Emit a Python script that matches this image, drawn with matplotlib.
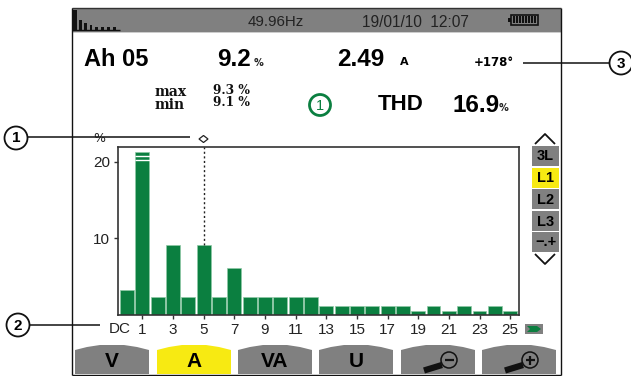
import matplotlib
matplotlib.use("Agg")
import matplotlib.pyplot as plt
from matplotlib.patches import Rectangle, Polygon, Circle

W, H = 631, 376
positions = list(range(26))
values = [3.2, 21.3, 2.3, 9.2, 2.3, 9.2, 2.3, 6.2, 2.3, 2.3, 2.3, 2.3, 2.3,
          1.2, 1.2, 1.2, 1.2, 1.2, 1.2, 0.5, 1.2, 0.5, 1.2, 0.5, 1.2, 0.5]
tick_pos = [0, 1, 3, 5, 7, 9, 11, 13, 15, 17, 19, 21, 23, 25]
tick_labels = ["DC", "1", "3", "5", "7", "9", "11", "13", "15", "17", "19", "21", "23", "25"]
y_ticks = [10, 20]
overflow_marks = [20.2, 20.8]
cursor_pos = 5
cursor_val = 9.2
side_labels = ["3L", "L1", "L2", "L3", "−.+"]
tab_labels = ["V", "A", "VA", "U", "", ""]

GREEN = "#0b7f40"
GRAY = "#808080"
YEL = "#f7ea12"
FONT = ["Liberation Sans", "DejaVu Sans"]
plt.rcParams["font.family"] = FONT

fig = plt.figure(figsize=(W / 100, H / 100), dpi=100)
bg = fig.add_axes([0, 0, 1, 1])
bg.set_xlim(0, W)
bg.set_ylim(H, 0)
bg.axis("off")


def T(x, y, s, size, ha="left", weight="normal", color="#111111", fam=None, z=5):
    bg.text(x, y, s, fontsize=size, ha=ha, va="center", weight=weight, color=color,
            family=fam or FONT, zorder=z)


def L(xs, ys, lw=1.0, c="#111111", z=4, **kw):
    bg.plot(xs, ys, color=c, lw=lw, zorder=z, solid_capstyle="butt", **kw)


# device frame
L([71.5, 71.5], [8, 375], lw=1.0)
L([561, 561], [8, 375], lw=1.0)
L([71.5, 561], [375, 375], lw=1.0)
L([71.5, 561], [8, 8], lw=1.0, c="#333333")
bg.add_patch(Rectangle((72, 8), 489, 24, fc=GRAY, ec="none", zorder=1))
bg.add_patch(Rectangle((72, 32), 489, 1, fc="#cccccc", ec="none", zorder=1))

# header icon
for x0, w, top in [(72, 5, 10), (79, 3, 20), (84, 3, 23), (90, 2, 25), (95, 3, 27), (101, 3, 27), (107, 3, 27), (113, 3, 27)]:
    bg.add_patch(Rectangle((x0, top), w, 30 - top, fc="#111111", ec="none", zorder=3))
L([72, 120], [30, 30], lw=1.0)
T(248, 22.5, "49.96Hz", 10.8, color="#222222")
T(362, 22.5, "19/01/10  12:07", 11.2, color="#222222")
# battery
bg.add_patch(Rectangle((511, 14.5), 27, 10, fc="none", ec="#111111", lw=1.2, zorder=4))
bg.add_patch(Rectangle((508, 17.5), 3, 4, fc="#111111", ec="none", zorder=4))
for x0 in [514, 517, 520, 523, 526, 529, 532, 535]:
    L([x0, x0], [16, 23], lw=1.5)

# readouts
T(84, 60, "Ah 05", 17, color="#000000", weight="bold")
T(217, 60, "9.2", 17.5, weight="bold", color="#000000")
T(254, 63, "%", 7, weight="bold", color="#222222", fam=["DejaVu Sans"])
T(337, 59, "2.49", 17.5, weight="bold", color="#000000")
T(400, 62, "A", 8, weight="bold", color="#000000", fam=["DejaVu Sans"])
T(474, 62, "+178°", 8.5, weight="bold", color="#000000", fam=["DejaVu Sans"])
T(155, 92, "max", 10, weight="bold", color="#111111", fam=["DejaVu Serif"])
T(155, 105, "min", 10, weight="bold", color="#111111", fam=["DejaVu Serif"])
T(213, 90, "9.3 %", 8.8, weight="bold", color="#111111", fam=["DejaVu Serif"])
T(213, 103, "9.1 %", 8.8, weight="bold", color="#111111", fam=["DejaVu Serif"])
bg.add_patch(Circle((320, 105), 10.5, fc="none", ec=GREEN, lw=2, zorder=4))
T(320, 105.5, "1", 10.5, ha="center", color=GREEN)
T(378, 105, "THD", 16, color="#000000", weight="bold")
T(452, 105, "16.9", 17.5, weight="bold", color="#000000")
T(499, 108, "%", 7, weight="bold", color="#222222", fam=["DejaVu Sans"])

# chart: y=0 at pixel 315, 10 units = 76.6 px; x: 127 px at 0, 15.33 px per harmonic
ax_l, ax_r, ax_t, ax_b = 118, 519, 147, 315
ax = fig.add_axes([ax_l / W, 1 - ax_b / H, (ax_r - ax_l) / W, (ax_b - ax_t) / H], zorder=3)
ax.patch.set_alpha(0)
ax.set_xlim((ax_l - 127) / 15.33, (ax_r - 127) / 15.33)
ax.set_ylim(0, (ax_b - ax_t) / 7.66)
ax.bar(positions, values, width=0.9, color=GREEN, edgecolor="#8fc9a6", linewidth=0.5, zorder=2)
ax.hlines(overflow_marks, 0.5, 1.5, color="white", lw=1.0, zorder=3)
ax.vlines(cursor_pos, cursor_val, ax.get_ylim()[1], color="#222222", lw=1.0,
          linestyles=(0, (1.5, 1.8)), zorder=3)
for s in ax.spines.values():
    s.set_color("#333333")
    s.set_linewidth(1.2)
ax.set_xticks(tick_pos[1:])
ax.set_xticklabels(tick_labels[1:], fontsize=11, color="#222222")
ax.set_yticks(y_ticks)
ax.set_yticklabels([str(v) for v in y_ticks], fontsize=11, color="#222222")
ax.tick_params(axis="both", length=3, width=1, color="#333333", pad=2.5)
T(109, 329, tick_labels[0], 11, color="#222222")
T(93, 139, "%", 9, color="#222222", fam=["DejaVu Sans"])
# cursor marker
bg.add_patch(Polygon([(199, 139), (203.5, 135.5), (208, 139), (203.5, 142.5)], fc="white", ec="#222222", lw=0.9, zorder=4))

# callouts
for cx, cy, s, line in [(16, 138, "1", ([27, 190], [137, 137])),
                        (18, 325, "2", ([30, 100], [325, 325])),
                        (621, 63, "3", ([523, 610], [63, 63]))]:
    bg.add_patch(Circle((cx, cy), 11.5, fc="white", ec="#111111", lw=1.3, zorder=6))
    T(cx, cy + 0.5, s, 11, ha="center", weight="bold", color="#000000", z=7)
    L(*line, lw=1.1, c="#111111", z=5)

# side buttons
for (y0, y1), s in zip([(146, 166), (168, 188), (189, 209), (211, 231), (232, 252)], side_labels):
    bg.add_patch(Rectangle((532, y0), 27, y1 - y0, fc=YEL if s == "L1" else GRAY, ec="none", zorder=2))
    T(545.5, (y0 + y1) / 2 + 0.5, s, 10.5, ha="center", weight="bold", color="#000000", fam=["Liberation Sans Narrow", "Liberation Sans"])
L([535, 545, 555], [144, 134, 144], lw=1.3)
L([535, 545, 555], [254, 264, 254], lw=1.3)

# series marker at the axis end
bg.add_patch(Rectangle((525, 324), 18, 10, fc=GRAY, ec="none", zorder=2))
bg.add_patch(Polygon([(527, 326), (537, 326), (541, 329), (537, 332), (527, 332), (530, 329)],
                     fc=GREEN, ec="none", zorder=3))

# bottom tabs
for i, (x0, s) in enumerate(zip([75, 157, 238, 319, 401, 482], tab_labels)):
    w = 74
    poly = [(x0, 374), (x0, 350), (x0 + 12, 347), (x0 + 25, 345), (x0 + w - 25, 345),
            (x0 + w - 12, 347), (x0 + w, 350), (x0 + w, 374)]
    bg.add_patch(Polygon(poly, fc=YEL if s == "A" else GRAY, ec="none", zorder=2))
    if s:
        T(x0 + w / 2, 361.5, s, 15, ha="center", color="#000000", fam=["Liberation Sans"], weight="bold")
    else:
        cx, cy = x0 + 48, 360
        bg.add_patch(Circle((cx, cy), 8, fc="none", ec="#111111", lw=1.1, zorder=4))
        L([x0 + 23, cx - 7], [370.5, cy + 5], lw=4.5, c="#111111")
        L([cx - 4.5, cx + 4.5], [cy, cy], lw=1.6)
        if i == 5:
            L([cx, cx], [cy - 4.5, cy + 4.5], lw=1.6)

fig.savefig("out.png", dpi=100, facecolor="white")
